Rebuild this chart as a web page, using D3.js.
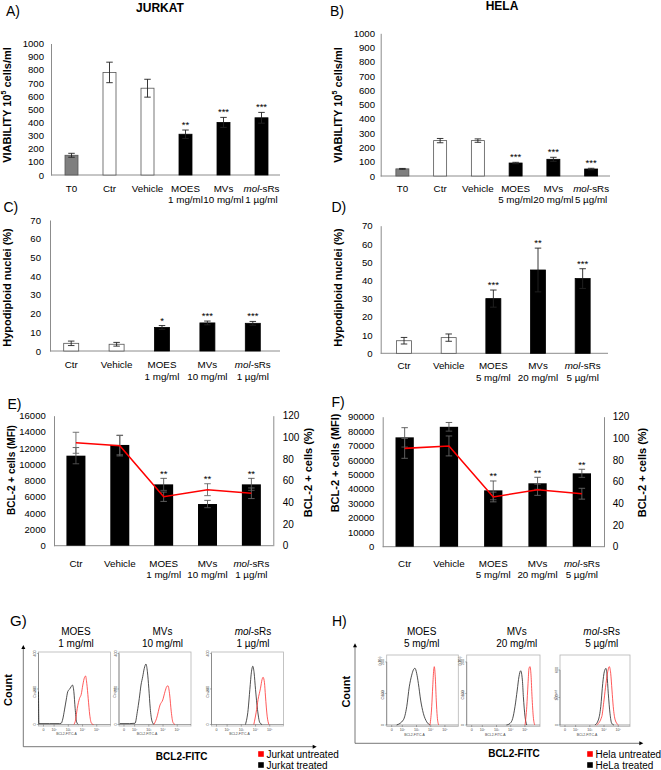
<!DOCTYPE html>
<html><head><meta charset="utf-8">
<script src="https://cdn.jsdelivr.net/npm/d3@7"></script>
<style>
body{margin:0;background:#fff;}
svg{display:block;font-family:"Liberation Sans",Arial,sans-serif;background:#fff;}
</style></head><body>
<svg id="c" width="661" height="770"></svg>
<script>
// ---------------- DATA ----------------
const catsViab = ["T0","Ctr","Vehicle","MOES","MVs","mol-sRs"];
const subJurkatViab = ["","","","1 mg/ml","10 mg/ml","1 µg/ml"];
const subHelaViab = ["","","","5 mg/ml","20 mg/ml","5 µg/ml"];
const viabTicks = [0,100,200,300,400,500,600,700,800,900,1000];
const jurkatViab = [150, 780, 660, 310, 400, 435];
const jurkatViabErr = [15, 78, 68, 32, 38, 41];
const jurkatViabSig = ["","","","**","***","***"];
const helaViab = [50, 248, 248, 91, 117, 49];
const helaViabErr = [3, 15, 12, 5, 14, 5];
const helaViabSig = ["","","","***","***","***"];

const catsHypo = ["Ctr","Vehicle","MOES","MVs","mol-sRs"];
const subJurkat = ["","","1 mg/ml","10 mg/ml","1 µg/ml"];
const subHela = ["","","5 mg/ml","20 mg/ml","5 µg/ml"];
const hypoTicks = [0,10,20,30,40,50,60,70];
const jurkatHypo = [4.1, 3.6, 12.6, 15.0, 14.8];
const jurkatHypoErr = [1.2, 1.0, 1.0, 1.0, 1.0];
const jurkatHypoSig = ["","","*","***","***"];
const helaHypo = [6.9, 8.6, 30.0, 45.7, 41.0];
const helaHypoErr = [1.8, 2.0, 4.7, 12.0, 5.4];
const helaHypoSig = ["","","***","**","***"];

const jurkatMFITicks = [0,2000,4000,6000,8000,10000,12000,14000,16000];
const helaMFITicks = [0,10000,20000,30000,40000,50000,60000,70000,80000,90000];
const pctTicks = [0,20,40,60,80,100,120];
const jurkatMFI = [11080, 12400, 7550, 5130, 7550];
const jurkatMFIErr = [1000, 1200, 740, 450, 740];
const jurkatPct = [95, 92.3, 45.2, 51.7, 48.4];
const jurkatPctErr = [9.7, 9.4, 4.3, 5.5, 4.9];
const jurkatBclSig = ["","","**","**","**"];
const helaMFI = [75700, 83000, 39000, 43900, 50800];
const helaMFIErr = [6700, 3000, 6500, 4150, 2800];
const helaPct = [90.8, 93, 45.9, 52.6, 48.9];
const helaPctErr = [9.2, 9.2, 4.5, 5.2, 5.0];
const helaBclSig = ["","","**","**","**"];

// flow cytometry histograms: [log10 fluorescence (decade units), count]
const histTickU = [1.25,2,3,4,5];
const histTickLabels = ["0","10²","10³","10⁴","10⁵"];
const jurkatHistTitles = [["MOES","1 mg/ml"],["MVs","10 mg/ml"],["mol-sRs","1 µg/ml"]];
const helaHistTitles = [["MOES","5 mg/ml"],["MVs","20 mg/ml"],["mol-sRs","5 µg/ml"]];
const jurkatHistYTicks = [0,200,400];
const helaHistYTicks = [[0,100,200],[0,100,200],[0,300,600]];
const histG1Treated = [[0.9,185],[0.93,5],[1.67,5],[2.38,5],[2.5,7],[2.61,31],[2.73,82],[2.85,138],[2.96,185],[3.08,198],[3.2,213],[3.29,222],[3.39,185],[3.48,91],[3.58,16],[3.7,0]];
const histG1Untreated = [[3.39,0],[3.51,25],[3.63,91],[3.79,147],[3.91,170],[4.02,222],[4.14,265],[4.21,273],[4.3,232],[4.4,147],[4.51,53],[4.63,7],[4.77,0]];
const histG2Treated = [[0.95,5],[1.65,5],[2.03,7],[2.19,72],[2.33,147],[2.45,222],[2.57,269],[2.68,316],[2.8,340],[2.9,297],[3.0,204],[3.1,91],[3.22,20],[3.36,0]];
const histG2Untreated = [[3.36,0],[3.55,35],[3.79,110],[3.98,138],[4.14,185],[4.26,213],[4.35,218],[4.47,166],[4.58,72],[4.7,12],[4.84,0]];
const histG3Treated = [[3.29,0],[3.48,84],[3.6,197],[3.72,300],[3.81,328],[3.9,291],[4.0,197],[4.14,84],[4.3,11],[4.46,0]];
const histG3Untreated = [[3.88,0],[4.04,66],[4.18,141],[4.35,204],[4.46,253],[4.53,266],[4.63,235],[4.7,160],[4.82,47],[4.94,0]];
const histH1Treated = [[1.6,0],[2.07,16],[2.31,58],[2.49,121],[2.66,158],[2.77,174],[2.89,180],[3.01,164],[3.13,132],[3.29,79],[3.48,37],[3.72,10],[3.95,0]];
const histH1Untreated = [[3.95,0],[4.07,58],[4.14,121],[4.21,174],[4.25,185],[4.32,153],[4.39,79],[4.46,26],[4.56,0]];
const histH2Treated = [[3.7,0],[3.95,5],[4.14,21],[4.3,58],[4.46,111],[4.58,153],[4.7,172],[4.82,143],[4.89,90],[5.01,26],[5.13,0]];
const histH2Untreated = [[5.01,0],[5.13,58],[5.22,132],[5.29,180],[5.36,185],[5.43,158],[5.5,90],[5.59,26],[5.69,0]];
const histH3Treated = [[3.36,0],[3.6,54],[3.77,200],[3.91,454],[4.02,580],[4.14,617],[4.21,546],[4.3,346],[4.42,127],[4.54,18],[4.7,0]];
const histH3Untreated = [[3.48,0],[3.84,90],[4.0,273],[4.14,454],[4.26,580],[4.37,636],[4.47,563],[4.56,381],[4.65,200],[4.79,54],[5.01,0]];

// ---------------- DRAWING ----------------
const svg = d3.select("#c");
const FONT = "'Liberation Sans', Arial, sans-serif";
const AX = "#8c8c8c";
const plainFmt = d3.format("d");

function txt(g, x, y, s, size, opts) {
  opts = opts || {};
  const t = g.append("text").attr("x", x).attr("y", y).attr("font-size", size)
    .attr("text-anchor", opts.anchor || "start").attr("fill", opts.fill || "#000");
  if (opts.bold) t.attr("font-weight", "bold");
  t.text(s);
  return t;
}
function catText(g, x, y, cat, size) {
  const t = g.append("text").attr("x", x).attr("y", y).attr("font-size", size)
    .attr("text-anchor", "middle").attr("fill", "#000");
  if (cat === "mol-sRs") {
    t.append("tspan").attr("font-style", "italic").text("mol");
    t.append("tspan").text("-sRs");
  } else t.text(cat);
  return t;
}
function vlabel(g, cx, cy, size, build) {
  const t = g.append("text").attr("transform", `translate(${cx},${cy}) rotate(-90)`)
    .attr("text-anchor", "middle").attr("dominant-baseline", "central")
    .attr("font-size", size).attr("font-weight", "bold").attr("fill", "#000");
  build(t);
  return t;
}
function errBar(g, cx, yTop, yBot, color, w) {
  g.append("line").attr("x1", cx).attr("x2", cx).attr("y1", yTop).attr("y2", yBot)
    .attr("stroke", color).attr("stroke-width", 0.9);
  [yTop, yBot].forEach(yy => g.append("line").attr("x1", cx - w / 2).attr("x2", cx + w / 2)
    .attr("y1", yy).attr("y2", yy).attr("stroke", color).attr("stroke-width", 0.9));
}
function fillFor(cat) {
  if (cat === "T0") return "#7f7f7f";
  if (cat === "Ctr" || cat === "Vehicle") return "#ffffff";
  return "#000000";
}
function styleAxis(ax, size) {
  ax.attr("font-family", FONT).attr("font-size", size);
  ax.select(".domain").attr("stroke", AX).attr("stroke-width", 1);
  ax.selectAll(".tick text").attr("fill", "#000");
}

function barPanel(o) {
  const g = svg.append("g");
  const x = d3.scaleBand().domain(o.cats).range(o.band);
  const y = d3.scaleLinear().domain([0, o.yMax]).range(o.yRange);
  const ax = g.append("g").attr("transform", `translate(${o.axisX},0)`)
    .call(d3.axisLeft(y).tickValues(o.ticks).tickFormat(plainFmt).tickSize(0).tickPadding(o.pad));
  styleAxis(ax, 9.6);
  g.append("line").attr("x1", o.axisX).attr("x2", o.axisEnd).attr("y1", y(0)).attr("y2", y(0))
    .attr("stroke", AX).attr("stroke-width", 1);
  o.cats.forEach((c, i) => {
    const cx = x(c) + x.bandwidth() / 2;
    const v = o.values[i], e = o.errs[i];
    const f = fillFor(c);
    g.append("rect").attr("x", cx - o.barW / 2).attr("y", y(v)).attr("width", o.barW)
      .attr("height", y(0) - y(v)).attr("fill", f)
      .attr("stroke", f === "#000000" ? "#000" : "#555").attr("stroke-width", 0.8);
    errBar(g, cx, y(v + e), y(v - e), "#222", 6.5);
    if (o.sig[i]) txt(g, cx, y(v + e) - 2, o.sig[i], 9.5, { anchor: "middle" });
    catText(g, cx, o.lab1, c, 9.8);
    if (o.subs[i]) txt(g, cx, o.lab2, o.subs[i], 9.8, { anchor: "middle" });
  });
  return g;
}

function comboPanel(o) {
  const g = svg.append("g");
  const x = d3.scaleBand().domain(o.cats).range(o.band);
  const y = d3.scaleLinear().domain([0, o.yMax]).range(o.yRange);
  const y2 = d3.scaleLinear().domain([0, 120]).range(o.yRange);
  const ax = g.append("g").attr("transform", `translate(${o.axisX},0)`)
    .call(d3.axisLeft(y).tickValues(o.ticks).tickFormat(plainFmt).tickSize(0).tickPadding(o.pad));
  styleAxis(ax, 9.5);
  const ax2 = g.append("g").attr("transform", `translate(${o.axisEnd},0)`)
    .call(d3.axisRight(y2).tickValues(pctTicks).tickFormat(plainFmt).tickSize(0).tickPadding(o.pad2));
  styleAxis(ax2, 10);
  g.append("line").attr("x1", o.axisX).attr("x2", o.axisEnd).attr("y1", y(0)).attr("y2", y(0))
    .attr("stroke", AX).attr("stroke-width", 1);
  const cxs = o.cats.map(c => x(c) + x.bandwidth() / 2);
  o.cats.forEach((c, i) => {
    const v = o.values[i];
    g.append("rect").attr("x", cxs[i] - o.barW / 2).attr("y", y(v)).attr("width", o.barW)
      .attr("height", y(0) - y(v)).attr("fill", "#000");
  });
  o.cats.forEach((c, i) => {
    const v = o.values[i], e = o.errs[i];
    errBar(g, cxs[i], y(v + e), y(v - e), "#555", 6.5);
    const p = o.pct[i], pe = o.pctErr[i];
    errBar(g, cxs[i], y2(p + pe), y2(p - pe), "#666", 6.5);
  });
  const line = d3.line().x((d, i) => cxs[i]).y(d => y2(d));
  g.append("path").datum(o.pct).attr("d", line).attr("fill", "none")
    .attr("stroke", "#ff0000").attr("stroke-width", 1.6);
  o.cats.forEach((c, i) => {
    if (o.sig[i]) {
      const tp = Math.min(y(o.values[i] + o.errs[i]), y2(o.pct[i] + o.pctErr[i]));
      txt(g, cxs[i], tp - 1.5, o.sig[i], 9.5, { anchor: "middle" });
    }
    catText(g, cxs[i], o.lab1, c, 9.8);
    if (o.subs[i]) txt(g, cxs[i], o.lab2, o.subs[i], 9.8, { anchor: "middle" });
  });
  return g;
}

// ---- titles & letters
const gTop = svg.append("g");
txt(gTop, 6, 16, "A)", 14);
txt(gTop, 330, 15.5, "B)", 14);
txt(gTop, 3.5, 212, "C)", 14);
txt(gTop, 331.5, 212, "D)", 14);
txt(gTop, 7.5, 409, "E)", 14);
txt(gTop, 331.5, 407, "F)", 14);
txt(gTop, 10, 625.5, "G)", 15);
txt(gTop, 332, 625.5, "H)", 14);
txt(gTop, 160, 12, "JURKAT", 12, { anchor: "middle", bold: true });
txt(gTop, 502, 10, "HELA", 12, { anchor: "middle", bold: true });

// ---- A
barPanel({ cats: catsViab, subs: subJurkatViab, values: jurkatViab, errs: jurkatViabErr, sig: jurkatViabSig,
  band: [52.5, 280.5], axisX: 51, axisEnd: 280, yMax: 1000, yRange: [175, 43.5], ticks: viabTicks,
  pad: 7, barW: 13, lab1: 191.5, lab2: 203 });
vlabel(gTop, 7, 105, 11, t => { t.append("tspan").text("VIABILITY 10"); t.append("tspan").attr("font-size", 7).attr("dy", -4).text("5"); t.append("tspan").attr("dy", 4).text(" cells/ml"); });
// ---- B
barPanel({ cats: catsViab, subs: subHelaViab, values: helaViab, errs: helaViabErr, sig: helaViabSig,
  band: [383.5, 610], axisX: 380.7, axisEnd: 610, yMax: 1000, yRange: [176, 33.3], ticks: viabTicks,
  pad: 5.7, barW: 13, lab1: 191.5, lab2: 203 });
vlabel(gTop, 337.5, 105, 11, t => { t.append("tspan").text("VIABILITY 10"); t.append("tspan").attr("font-size", 7).attr("dy", -4).text("5"); t.append("tspan").attr("dy", 4).text(" cells/ml"); });
// ---- C
barPanel({ cats: catsHypo, subs: subJurkat, values: jurkatHypo, errs: jurkatHypoErr, sig: jurkatHypoSig,
  band: [48.5, 275.5], axisX: 50, axisEnd: 280, yMax: 70, yRange: [351, 220], ticks: hypoTicks,
  pad: 9, barW: 15, lab1: 367.5, lab2: 379.5 });
vlabel(gTop, 6.7, 287.5, 11, t => t.text("Hypodiploid nuclei (%)"));
// ---- D
barPanel({ cats: catsHypo, subs: subHela, values: helaHypo, errs: helaHypoErr, sig: helaHypoSig,
  band: [381.7, 605], axisX: 380.7, axisEnd: 608, yMax: 70, yRange: [353.3, 225.7], ticks: hypoTicks,
  pad: 8, barW: 15, lab1: 369, lab2: 380.5 });
vlabel(gTop, 337.5, 287.5, 11, t => t.text("Hypodiploid nuclei (%)"));
// ---- E
comboPanel({ cats: catsHypo, subs: subJurkat, values: jurkatMFI, errs: jurkatMFIErr, pct: jurkatPct, pctErr: jurkatPctErr,
  sig: jurkatBclSig, band: [54, 273.3], axisX: 54, axisEnd: 273.3, yMax: 16000, yRange: [545.7, 415.7],
  ticks: jurkatMFITicks, pad: 8.3, pad2: 9.4, barW: 19, lab1: 567, lab2: 578 });
vlabel(gTop, 11.7, 470, 10, t => t.text("BCL-2 + cells  (MFI)"));
vlabel(gTop, 308, 472.5, 11, t => t.text("BCL-2 + cells (%)"));
// ---- F
comboPanel({ cats: catsHypo, subs: subHela, values: helaMFI, errs: helaMFIErr, pct: helaPct, pctErr: helaPctErr,
  sig: helaBclSig, band: [382.5, 604], axisX: 382.7, axisEnd: 604, yMax: 90000, yRange: [546.7, 416.7],
  ticks: helaMFITicks, pad: 8.4, pad2: 8.7, barW: 18.3, lab1: 567, lab2: 578 });
vlabel(gTop, 335, 463, 11, t => t.text("BCL-2 + cells (MFI)"));
vlabel(gTop, 641.7, 472.5, 11, t => t.text("BCL-2 + cells (%)"));

// ---- histograms
function histBox(o) {
  const g = svg.append("g");
  const x = d3.scaleLinear().domain([0.9, 0.9 + (o.x1 - o.x0) / 14.2]).range([o.x0, o.x1]);
  const y = d3.scaleLinear().domain([0, o.yMax]).range([o.y1 - 1.5, o.y0]);
  g.append("rect").attr("x", o.x0).attr("y", o.y0).attr("width", o.x1 - o.x0).attr("height", o.y1 - o.y0)
    .attr("fill", "#fff").attr("stroke", "#b5b5b5").attr("stroke-width", 0.8);
  g.append("line").attr("x1", o.x0).attr("x2", o.x0).attr("y1", y(o.yTicks[o.yTicks.length - 1])).attr("y2", o.y1 - 1.5)
    .attr("stroke", "#666").attr("stroke-width", 0.6);
  g.append("line").attr("x1", o.x0).attr("x2", o.x1).attr("y1", o.y1 - 1.5).attr("y2", o.y1 - 1.5)
    .attr("stroke", "#666").attr("stroke-width", 0.6);
  histTickU.forEach((u, i) => {
    g.append("line").attr("x1", x(u)).attr("x2", x(u)).attr("y1", o.y1 - 1.5).attr("y2", o.y1 + 0.5)
      .attr("stroke", "#666").attr("stroke-width", 0.5);
    txt(g, x(u), o.y1 + 4.5, histTickLabels[i], 3.6, { anchor: "middle", fill: "#444" });
  });
  txt(g, (o.x0 + o.x1) / 2 - 8, o.y1 + 9, "BCL2-FITC-A", 3.4, { anchor: "middle", fill: "#444" });
  o.yTicks.forEach(v => {
    g.append("line").attr("x1", o.x0 - 1.5).attr("x2", o.x0).attr("y1", y(v)).attr("y2", y(v))
      .attr("stroke", "#666").attr("stroke-width", 0.5);
    g.append("text").attr("transform", `translate(${o.x0 - 2.5},${y(v)}) rotate(-90)`)
      .attr("text-anchor", "middle").attr("font-size", 3.6).attr("fill", "#444").text(v);
  });
  g.append("text").attr("transform", `translate(${o.x0 - 3},${(o.y0 + o.y1) / 2 + 4}) rotate(-90)`)
    .attr("text-anchor", "middle").attr("font-size", 3.6).attr("fill", "#444").text("Count");
  if (o.mult) g.append("text").attr("transform", `translate(${o.x0 - 5.5},${o.y0 + 6}) rotate(-90)`)
    .attr("text-anchor", "middle").attr("font-size", 3.4).attr("fill", "#444").text("(x10¹)");
  const line = d3.line().x(d => x(d[0])).y(d => y(d[1])).curve(d3.curveMonotoneX);
  g.append("path").datum(o.treated).attr("d", line).attr("fill", "none").attr("stroke", "#222").attr("stroke-width", 0.8);
  g.append("path").datum(o.untreated).attr("d", line).attr("fill", "none").attr("stroke", "#ff3030").attr("stroke-width", 0.8);
  const tt = o.title;
  catText(g, o.tx, 635.3, tt[0], 10);
  txt(g, o.tx, 647, tt[1], 10, { anchor: "middle" });
}
const gBoxes = [[38.5, 110.5], [119, 191], [211.5, 283.5]];
const gData = [[histG1Treated, histG1Untreated], [histG2Treated, histG2Untreated], [histG3Treated, histG3Untreated]];
const gTx = [76, 162.5, 253];
gBoxes.forEach((b, i) => histBox({ x0: b[0], x1: b[1], y0: 652, y1: 726, yMax: 408, yTicks: jurkatHistYTicks,
  treated: gData[i][0], untreated: gData[i][1], title: jurkatHistTitles[i], tx: gTx[i] }));
const hBoxes = [[386.7, 458.3], [466.7, 540], [560, 630]];
const hData = [[histH1Treated, histH1Untreated], [histH2Treated, histH2Untreated], [histH3Treated, histH3Untreated]];
const hMax = [222, 222, 763];
const hTx = [421.7, 516.7, 601.7];
hBoxes.forEach((b, i) => histBox({ x0: b[0], x1: b[1], y0: 655, y1: 726.5, yMax: hMax[i], yTicks: helaHistYTicks[i],
  treated: hData[i][0], untreated: hData[i][1], title: helaHistTitles[i], tx: hTx[i], mult: i < 2 }));

// big arrows
function arrows(g, x0, y0, yTop, xEnd) {
  g.append("line").attr("x1", x0).attr("x2", x0).attr("y1", y0).attr("y2", yTop + 3).attr("stroke", "#555").attr("stroke-width", 0.8);
  g.append("line").attr("x1", x0).attr("x2", xEnd - 3).attr("y1", y0).attr("y2", y0).attr("stroke", "#555").attr("stroke-width", 0.8);
  g.append("path").attr("d", `M${x0 - 2},${yTop + 4}L${x0},${yTop}L${x0 + 2},${yTop + 4}Z`).attr("fill", "#000");
  g.append("path").attr("d", `M${xEnd - 4},${y0 - 2}L${xEnd},${y0}L${xEnd - 4},${y0 + 2}Z`).attr("fill", "#000");
}
const gBot = svg.append("g");
arrows(gBot, 23.3, 746.7, 645, 316.7);
arrows(gBot, 355, 743.3, 643.3, 643.3);
vlabel(gBot, 8.3, 690, 11, t => t.text("Count"));
vlabel(gBot, 346, 691.7, 11, t => t.text("Count"));
txt(gBot, 181.7, 760.3, "BCL2-FITC", 10, { anchor: "middle", bold: true });
txt(gBot, 514, 756.5, "BCL2-FITC", 10, { anchor: "middle", bold: true });
function legend(g, x, items) {
  items.forEach((it, i) => {
    const yy = 754 + i * 11;
    g.append("rect").attr("x", x - 2.8).attr("y", yy - 2.8).attr("width", 5.6).attr("height", 5.6).attr("fill", it[1]);
    txt(g, x + 5.5, yy + 3.5, it[0], 10);
  });
}
legend(gBot, 261, [["Jurkat untreated", "#ff0000"], ["Jurkat treated", "#000"]]);
legend(gBot, 590, [["Hela untreated", "#ff0000"], ["HeLa treated", "#000"]]);
</script>
</body></html>
